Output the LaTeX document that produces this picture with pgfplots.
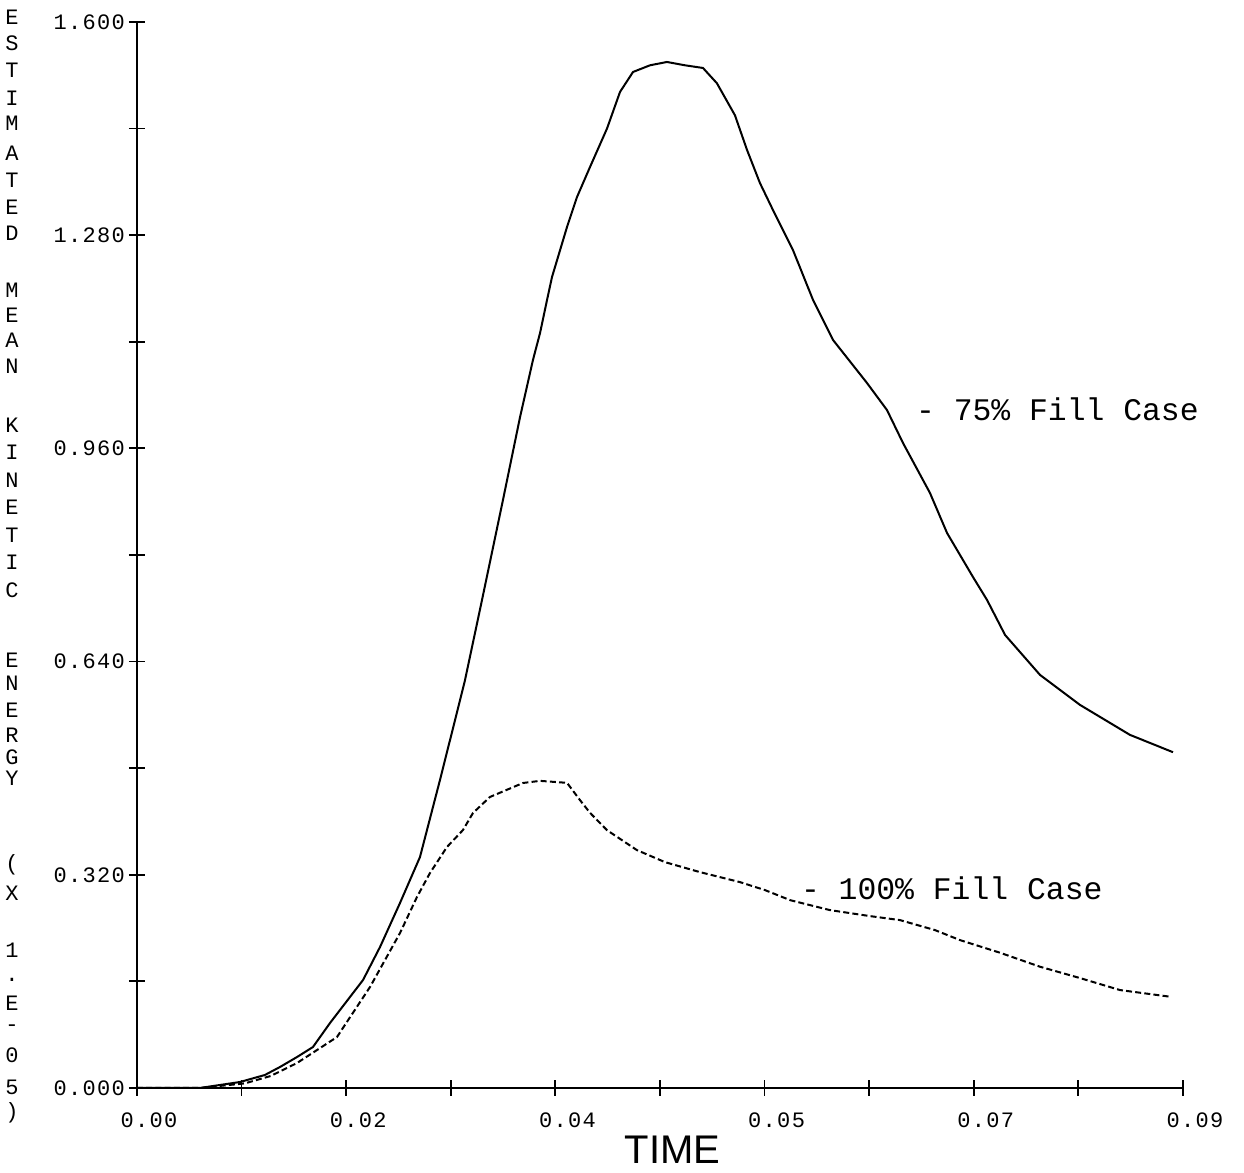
\documentclass[border=0pt]{standalone}
\usepackage{pgfplots}
\pgfplotsset{compat=1.18}
\usepackage{fontspec}
\newfontfamily\monof{Liberation Mono}
\newfontfamily\tickf{Liberation Mono}[LetterSpace=6]
\newfontfamily\sansf{Liberation Sans}

% 75% fill case (solid)
\pgfplotstableread{
t v
0 0
0.0054 0
0.00886 0.009
0.0110 0.0195
0.0123 0.0315
0.01377 0.0465
0.01514 0.0615
0.01661 0.0976
0.01945 0.1621
0.02091 0.2116
0.02263 0.2777
0.02435 0.3467
0.02607 0.4623
0.02693 0.522
0.02822 0.612
0.02968 0.732
0.03149 0.8826
0.03296 1.0071
0.03407 1.0927
0.03468 1.1332
0.03528 1.1827
0.03571 1.2173
0.037 1.2923
0.03786 1.3373
0.03898 1.3824
0.04044 1.440
0.04156 1.495
0.04268 1.525
0.04414 1.535
0.0456 1.540
0.04715 1.535
0.0487 1.531
0.0499 1.508
0.05145 1.460
0.05249 1.4079
0.0536 1.3583
0.05472 1.3178
0.05644 1.2578
0.05817 1.1827
0.05989 1.1227
0.06281 1.0582
0.06453 1.0176
0.06591 0.9681
0.06823 0.8931
0.0697 0.8330
0.07193 0.7670
0.07314 0.7325
0.07469 0.680
0.0777 0.620
0.08114 0.575
0.08544 0.530
0.08914 0.504
}\fullcase

% 100% fill case (dashed)
\pgfplotstableread{
t v
0 0
0.0054 0
0.0093 0.007
0.0115 0.018
0.01377 0.0375
0.01721 0.0765
0.01772 0.0901
0.02005 0.1516
0.02263 0.2326
0.02409 0.2867
0.02521 0.3227
0.02667 0.3617
0.02805 0.3872
0.02891 0.4128
0.03037 0.4368
0.03321 0.4578
0.03468 0.461
0.037 0.458
0.03812 0.432
0.03898 0.413
0.04044 0.387
0.04302 0.357
0.04543 0.339
0.04844 0.324
0.05188 0.309
0.05404 0.297
0.05619 0.282
0.05963 0.267
0.06307 0.258
0.06565 0.252
0.06866 0.237
0.07081 0.222
0.07426 0.203
0.0777 0.182
0.08114 0.165
0.08458 0.147
0.08888 0.137
}\fillcase

\begin{document}
\begin{tikzpicture}
\path[use as bounding box] (-68.5pt,-42.5pt) rectangle (553.5pt,544pt);
\begin{axis}[
    at={(0,0)}, anchor=south west,
    scale only axis,
    width=523pt, height=533pt,
    xmin=0, xmax=0.09,
    ymin=0, ymax=1.6,
    axis x line=bottom, axis y line=left,
    axis line style={-, line width=1.3pt},
    clip=false,
    scaled x ticks=false, scaled y ticks=false,
    xtick={0,0.018,0.036,0.054,0.072,0.09},
    xticklabels={0.00,0.02,0.04,0.05,0.07,0.09},
    minor xtick={0.009,0.027,0.045,0.063,0.081},
    ytick={0,0.32,0.64,0.96,1.28,1.6},
    yticklabels={0.000,0.320,0.640,0.960,1.280,1.600},
    minor ytick={0.16,0.48,0.8,1.12,1.44},
    tick align=center,
    major tick length=8pt, minor tick length=8pt,
    tick style={line width=0.9pt, black},
    ticklabel style={font=\tickf\fontsize{11}{11}\selectfont},
    xticklabel style={xshift=6pt, yshift=-5pt},
    yticklabel style={xshift=1.5pt},
]
\addplot[black, line width=1pt] table[x=t, y=v] {\fullcase};
\addplot[black, line width=1pt, dash pattern=on 3pt off 1.6pt] table[x=t, y=v] {\fillcase};

\node[anchor=west, inner sep=0, font=\monof\fontsize{15.7}{16}\selectfont]
    at (axis cs:0.0670,1.018) {- 75\% Fill Case};
\node[anchor=west, inner sep=0, font=\monof\fontsize{15.7}{16}\selectfont]
    at (axis cs:0.0571,0.300) {- 100\% Fill Case};
\node[font=\sansf\fontsize{20}{20}\selectfont]
    at (axis description cs:0.512,0) [yshift=-31pt] {TIME};
\end{axis}

% stacked y-axis title, one letter per line (y in pixels from the top)
\foreach \c/\y in {E/17,S/43,T/70,I/98,M/123,A/153,T/180,E/207,D/233,
    M/290,E/315,A/340,N/366,
    K/425,I/452,N/480,E/507,T/535,I/562,C/590,
    E/660,N/683,E/710,R/735,G/757,Y/778,
    {(}/865,X/893,1/950,./980,E/1003,-/1028,0/1055,5/1087,{)}/1113}
  \node[font=\monof\fontsize{11}{11}\selectfont, inner sep=0]
    at (-62.5pt,{(1088-\y)*0.5pt}) {\c};
\end{tikzpicture}
\end{document}
